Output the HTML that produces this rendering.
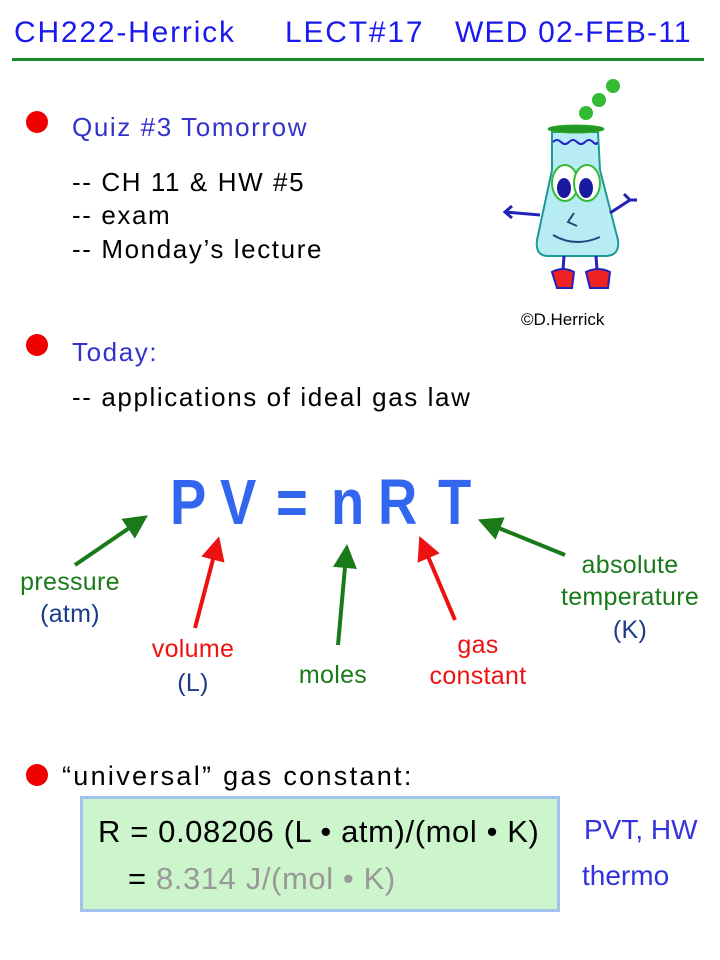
<!DOCTYPE html>
<html><head><meta charset="utf-8"><style>
body{margin:0;width:720px;height:960px;background:#fff;position:relative;overflow:hidden;font-family:"Liberation Sans",sans-serif}
.t{position:absolute;white-space:nowrap;line-height:1}
.c{transform:translateX(-50%)}
.b{position:absolute;width:22px;height:22px;border-radius:50%;background:#e00}
.s{font-size:26px;letter-spacing:1.6px}
.l{font-size:25px;letter-spacing:0.3px}
.p{position:absolute;top:470px;font-size:64px;color:#3366ee;line-height:1;font-weight:bold;transform:scaleX(0.85);transform-origin:left}
</style></head><body>
<div class="t" style="left:14px;top:18px;font-size:30px;letter-spacing:1.8px;color:#1a1aee">CH222-Herrick</div>
<div class="t" style="left:285px;top:18px;font-size:30px;letter-spacing:1.8px;color:#1a1aee">LECT#17</div>
<div class="t" style="left:455px;top:18px;font-size:30px;letter-spacing:1.2px;color:#1a1aee">WED 02-FEB-11</div>
<div style="position:absolute;left:12px;top:58px;width:692px;height:3px;background:#1a8a2a"></div>

<div class="b" style="left:26px;top:111px"></div>
<div class="t s" style="left:72px;top:114px;color:#3333cc">Quiz #3 Tomorrow</div>
<div class="t s" style="left:72px;top:169px">-- CH 11 &amp; HW #5</div>
<div class="t s" style="left:72px;top:202px">-- exam</div>
<div class="t s" style="left:72px;top:236px">-- Monday’s lecture</div>

<div class="b" style="left:26px;top:334px"></div>
<div class="t s" style="left:72px;top:339px;color:#3333cc">Today:</div>
<div class="t s" style="left:72px;top:384px">-- applications of ideal gas law</div>

<svg style="position:absolute;left:0;top:0" width="720" height="960">
<defs>
<marker id="g" markerWidth="6" markerHeight="6" refX="3" refY="3" orient="auto"><path d="M0,0L6,3L0,6z" fill="#1a7a1a"/></marker>
<marker id="r" markerWidth="6" markerHeight="6" refX="3" refY="3" orient="auto"><path d="M0,0L6,3L0,6z" fill="#ee1111"/></marker>
</defs>
<g stroke-width="4">
<line x1="75" y1="565" x2="138" y2="522" stroke="#1a7a1a" marker-end="url(#g)"/>
<line x1="195" y1="628" x2="216" y2="548" stroke="#ee1111" marker-end="url(#r)"/>
<line x1="338" y1="645" x2="346" y2="556" stroke="#1a7a1a" marker-end="url(#g)"/>
<line x1="455" y1="620" x2="424" y2="547" stroke="#ee1111" marker-end="url(#r)"/>
<line x1="565" y1="555" x2="489" y2="524" stroke="#1a7a1a" marker-end="url(#g)"/>
</g>
<circle cx="613" cy="86" r="7" fill="#33bb33"/><circle cx="599" cy="100" r="7" fill="#33bb33"/><circle cx="586" cy="113" r="7" fill="#33bb33"/>
<path d="M552,132 L598,132 L600,170 L618,240 Q620,256 605,256 L548,256 Q535,256 537,240 L552,170 Z" fill="#b8ecf4" stroke="#1a9a9a" stroke-width="2"/>
<path d="M553,142 q4,-4 8,0 q4,4 8,0 q4,-4 8,0 q4,4 8,0 q4,-4 8,0 q4,4 4,0" fill="none" stroke="#2222cc" stroke-width="2"/>
<ellipse cx="576" cy="129" rx="28" ry="4" fill="#229922" stroke="#33aa33"/>
<ellipse cx="565" cy="183" rx="13" ry="18" fill="#fff" stroke="#33bb33" stroke-width="2"/>
<ellipse cx="587" cy="183" rx="13" ry="18" fill="#fff" stroke="#33bb33" stroke-width="2"/>
<ellipse cx="564" cy="188" rx="7" ry="10" fill="#1a1aa0"/><ellipse cx="586" cy="188" rx="7" ry="10" fill="#1a1aa0"/>
<path d="M574,213 L568,222 L577,226 M553,235 Q575,248 600,237" fill="none" stroke="#1a4a7a" stroke-width="2"/>
<path d="M540,215 L505,212 M512,206 L505,212 L512,218 M610,213 L630,200 M624,194 L630,200 L637,200" fill="none" stroke="#2222bb" stroke-width="3"/>
<path d="M564,256 L563,270 M596,256 L597,270" stroke="#2222bb" stroke-width="3"/>
<path d="M552,272 Q563,266 574,272 L572,288 L557,288 Z" fill="#ee2222" stroke="#2222bb" stroke-width="2"/>
<path d="M586,272 Q598,266 610,272 L608,288 L590,288 Z" fill="#ee2222" stroke="#2222bb" stroke-width="2"/>
</svg>
<div class="t" style="left:521px;top:311px;font-size:17px">©D.Herrick</div>

<div class="p" style="left:170px">P</div>
<div class="p" style="left:220px">V</div>
<div class="p" style="left:276px">=</div>
<div class="p" style="left:331px">n</div>
<div class="p" style="left:378px">R</div>
<div class="p" style="left:438px">T</div>

<div class="t c l" style="left:70px;top:570px;color:#1a7a1a">pressure</div>
<div class="t c l" style="left:70px;top:602px;color:#1a3a8a">(atm)</div>
<div class="t c l" style="left:193px;top:637px;color:#ee1111">volume</div>
<div class="t c l" style="left:193px;top:671px;color:#1a3a8a">(L)</div>
<div class="t c l" style="left:333px;top:663px;color:#1a7a1a">moles</div>
<div class="t c l" style="left:478px;top:633px;color:#ee1111">gas</div>
<div class="t c l" style="left:478px;top:664px;color:#ee1111">constant</div>
<div class="t c l" style="left:630px;top:553px;color:#1a7a1a">absolute</div>
<div class="t c l" style="left:630px;top:585px;color:#1a7a1a">temperature</div>
<div class="t c l" style="left:630px;top:618px;color:#1a3a8a">(K)</div>

<div class="b" style="left:26px;top:764px"></div>
<div class="t" style="left:62px;top:763px;font-size:27px;letter-spacing:2.3px">“universal” gas constant:</div>
<div style="position:absolute;left:80px;top:796px;width:474px;height:110px;background:#ccf5cc;border:3px solid #a0c4ee"></div>
<div class="t" style="left:98px;top:816px;font-size:31px;letter-spacing:0.6px">R = 0.08206 (L • atm)/(mol • K)</div>
<div class="t" style="left:128px;top:863px;font-size:31px;letter-spacing:0.6px"><span>=</span> <span style="color:#999">8.314 J/(mol • K)</span></div>
<div class="t" style="left:584px;top:816px;font-size:28px;color:#3333dd">PVT, HW</div>
<div class="t" style="left:582px;top:862px;font-size:28px;color:#3333dd">thermo</div>
</body></html>
